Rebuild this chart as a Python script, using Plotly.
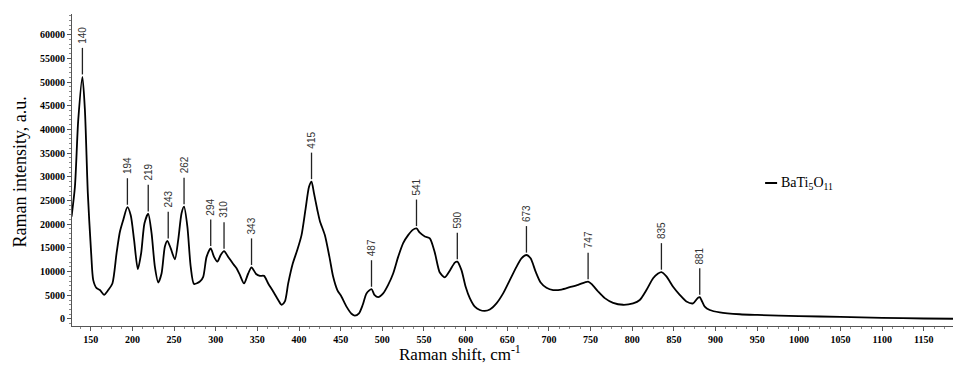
import plotly.graph_objects as go

# Raman spectrum of BaTi5O11
raman_shift = [127, 131, 135, 140, 143, 146.5, 150.5, 153, 157, 161, 166, 171, 176, 181, 185, 189,
               194, 198, 202, 206.5, 210.5, 214.5, 219, 223, 227, 231, 235, 239, 242, 246, 251, 255,
               259, 262, 266, 270, 274, 281, 285, 289, 294, 298, 302, 306, 310, 315, 321, 325, 329,
               334, 339, 343, 348.5, 353, 358, 363, 369, 375, 379, 383, 387, 392.5, 398, 403, 408,
               412, 415, 418, 422, 425, 431, 436.5, 441, 446, 451, 457, 463, 467, 472, 476.5, 481,
               487, 490.5, 495, 501, 507, 513, 519, 525, 531, 536.5, 541, 545, 551, 557, 563, 569,
               575, 581, 587, 590, 595, 600, 605, 611, 617, 623, 629, 637, 645, 653, 661, 667, 673,
               678, 684, 690, 697, 705, 715, 725, 735, 747, 751, 759, 767, 777, 789, 801, 809, 817,
               825, 831, 835, 841, 849, 857, 865, 873, 879, 881, 883, 887, 893, 905, 929, 950, 1000,
               1050, 1100, 1150, 1185]
intensity_k = [21.6, 27.9, 42.0, 51.1, 44.1, 26.5, 13.9, 8.2, 6.5, 6.1, 5.1, 6.1, 7.5, 13.9, 18.4, 20.9,
               23.6, 21.9, 16.7, 10.5, 13.9, 20.2, 22.2, 18.1, 11.0, 7.7, 9.6, 15.3, 16.5, 14.9, 12.6, 16.7,
               22.3, 23.7, 19.5, 11.0, 7.4, 7.9, 8.9, 13.1, 14.9, 13.1, 12.1, 13.5, 14.3, 13.1, 11.6, 10.7, 9.3,
               7.5, 9.6, 10.9, 9.5, 9.1, 9.1, 7.5, 5.8, 4.0, 3.0, 3.7, 7.5, 11.7, 14.6, 17.7, 23.4,
               27.9, 29.0, 26.5, 23.0, 20.7, 17.7, 13.1, 8.9, 6.1, 4.7, 2.6, 1.1, 0.7, 1.2, 3.0, 5.4,
               6.3, 5.1, 4.6, 5.4, 7.2, 9.6, 13.1, 16.0, 17.7, 18.8, 19.1, 18.2, 17.4, 17.0, 14.0, 9.8,
               8.8, 10.2, 11.9, 12.1, 10.3, 6.8, 4.4, 2.6, 1.9, 1.7, 2.0, 3.3, 5.4, 8.2, 11.0, 12.8, 13.5,
               12.8, 10.0, 7.7, 6.6, 6.1, 6.2, 6.7, 7.2, 7.9, 7.4, 5.8, 4.4, 3.4, 3.0, 3.3, 4.0, 6.1,
               8.6, 9.6, 9.9, 9.0, 6.8, 5.1, 3.7, 3.3, 4.5, 4.6, 4.0, 2.6, 1.9, 1.4, 1.0, 0.85, 0.6,
               0.45, 0.25, 0.1, 0.05]
intensity = [v * 1000 for v in intensity_k]

# labelled peaks
peak_labels = ["140", "194", "219", "243", "262", "294", "310", "343", "415", "487",
               "541", "590", "673", "747", "835", "881"]
peak_shift = [140, 194, 219, 243, 262, 294, 310, 343, 415, 487, 541, 590, 673, 747, 835, 881]
peak_height = [51100, 23600, 22200, 16500, 23700, 14900, 14300, 10900, 29000, 6300,
               19100, 12100, 13500, 7900, 9900, 4600]

y_ticks = list(range(0, 60001, 5000))
x_ticks = list(range(150, 1151, 50))

series_name = "BaTi<sub>5</sub>O<sub>11</sub>"

fig = go.Figure()
fig.add_trace(go.Scatter(x=raman_shift, y=intensity, mode="lines",
                         line=dict(color="black", width=1.8, shape="spline", smoothing=0.7),
                         name=series_name, showlegend=False))

gap = 500
stem = 5600
for lab, px, ph in zip(peak_labels, peak_shift, peak_height):
    fig.add_shape(type="line", x0=px, x1=px, y0=ph + gap, y1=ph + gap + stem,
                  xref="x", yref="y", line=dict(color="#222", width=1.3))
    fig.add_annotation(x=px, y=ph + gap + stem, xref="x", yref="y", text=lab,
                       showarrow=False, textangle=-90, xanchor="center", yanchor="bottom",
                       yshift=2, font=dict(family="Liberation Sans, Arial", size=10, color="#333"))

# legend-like entry
fig.add_shape(type="line", xref="paper", yref="paper", x0=(765 - 71.5) / 881.5, x1=(777 - 71.5) / 881.5,
              y0=(326 - 183) / 312, y1=(326 - 183) / 312, line=dict(color="black", width=2))
fig.add_annotation(xref="paper", yref="paper", x=(779 - 71.5) / 881.5, y=(326 - 183) / 312,
                   text=series_name, showarrow=False, xanchor="left", yanchor="middle",
                   font=dict(family="Liberation Serif, Times New Roman", size=14, color="black"))

# axis titles
fig.add_annotation(xref="paper", yref="paper", x=(460 - 71.5) / 881.5, y=-(366 - 326) / 312,
                   yanchor="bottom",
                   text="Raman shift, cm<sup>-1</sup>", showarrow=False,
                   font=dict(family="Liberation Serif, Times New Roman", size=17, color="black"))
fig.add_annotation(xref="paper", yref="paper", x=-(71.5 - 19) / 881.5, xanchor="center",
                   y=(326 - 172) / 312, yanchor="middle", textangle=-90,
                   text="Raman intensity, a.u.", showarrow=False,
                   font=dict(family="Liberation Serif, Times New Roman", size=18, color="black"))

tickfont = dict(family="Liberation Serif, Times New Roman", size=10, color="black", weight="bold")
fig.update_layout(
    width=953, height=365,
    margin=dict(l=72, r=0, t=14, b=39),
    paper_bgcolor="white", plot_bgcolor="white",
    showlegend=False,
    xaxis=dict(range=[127.5, 1185], tickvals=x_ticks, ticks="outside", ticklen=4, tickwidth=1,
               tickcolor="#555", showline=True, linecolor="#555", linewidth=1, showgrid=False,
               zeroline=False, tickfont=tickfont,
               minor=dict(dtick=12.5, tick0=150, ticks="outside", ticklen=2, tickcolor="#888")),
    yaxis=dict(range=[-1480, 64350], tickvals=y_ticks, tickformat="d", ticks="outside", ticklen=4,
               tickwidth=1, tickcolor="#555", showline=True, linecolor="#555", linewidth=1,
               showgrid=False, zeroline=False, tickfont=tickfont,
               minor=dict(dtick=1000, ticks="outside", ticklen=2, tickcolor="#888")),
)

fig.write_html("out.html", config={"displayModeBar": False},
               post_script="document.body.style.margin='0';document.body.style.overflow='hidden';")
